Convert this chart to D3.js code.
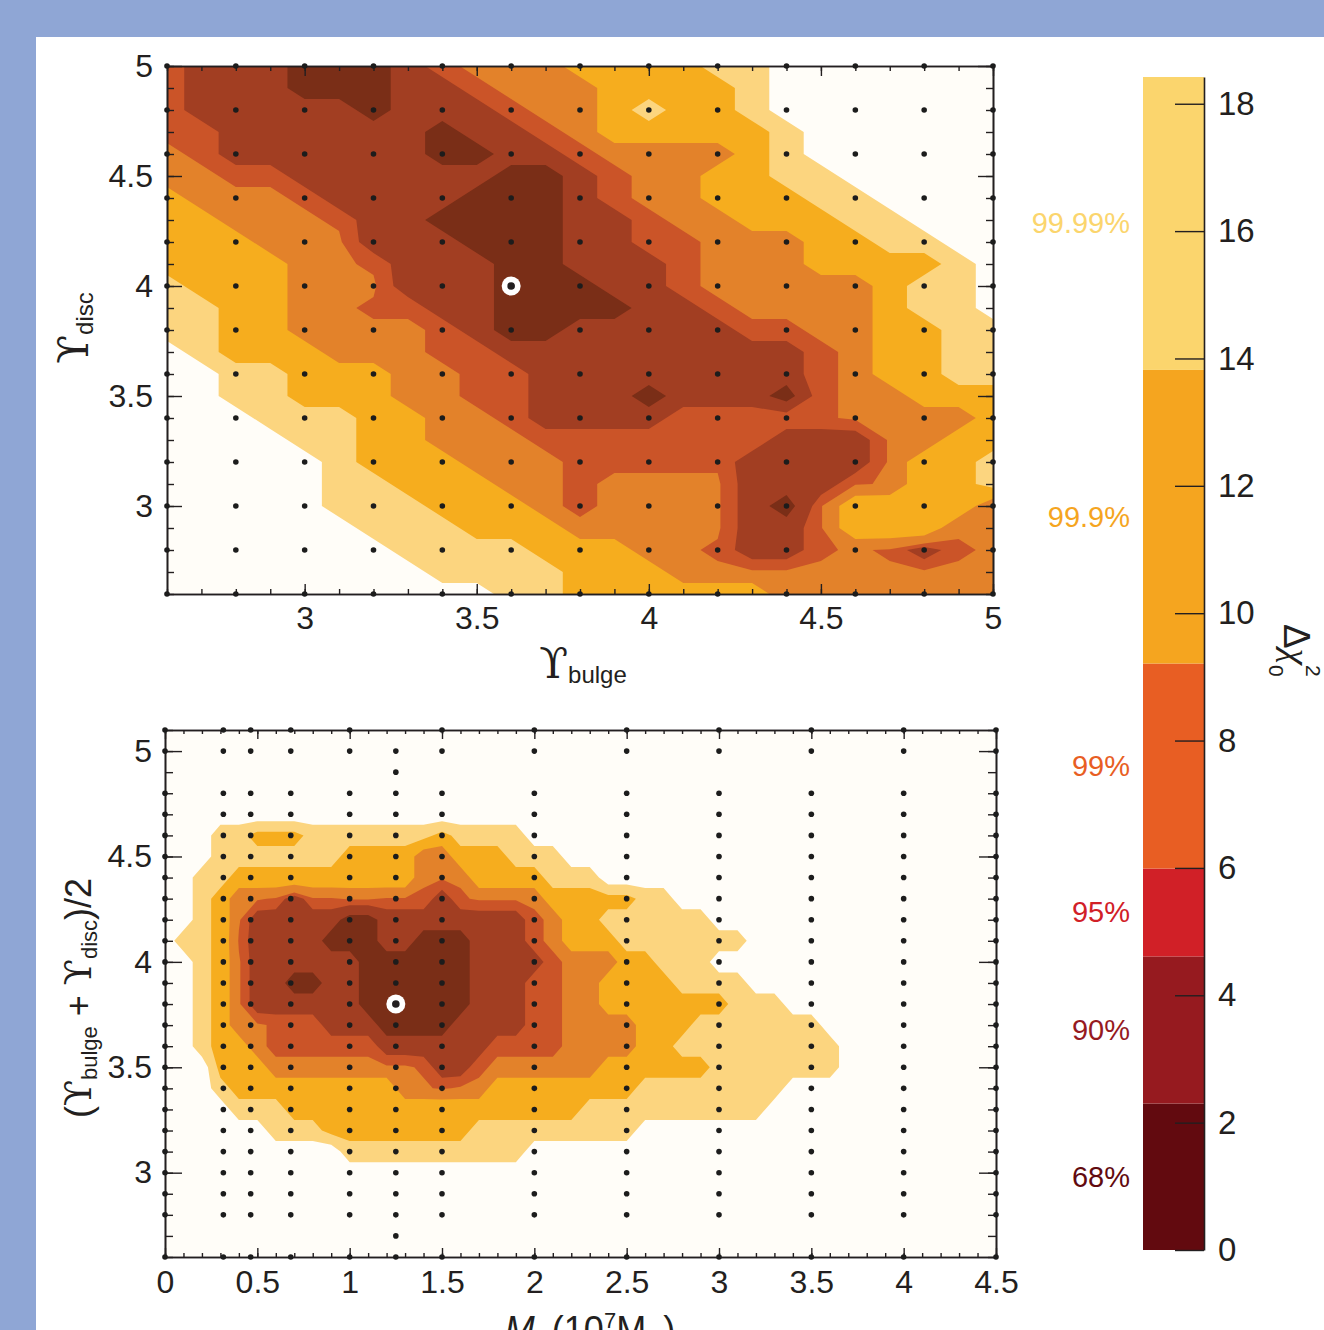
<!DOCTYPE html>
<html>
<head>
<meta charset="utf-8">
<script src="https://cdn.jsdelivr.net/npm/d3@7"></script>
<style>
  html, body { margin: 0; padding: 0; background: #8fa6d5; }
  svg { display: block; }
</style>
</head>
<body>
<svg id="chart" width="1324" height="1330"></svg>
<script>
// ---------------- DATA ----------------
// Δχ² confidence levels for 2 degrees of freedom
const thresholds = [2.30, 4.61, 5.99, 9.21, 13.82, 18.42];
const confLabels = ["68%", "90%", "95%", "99%", "99.9%", "99.99%"];
const barColors  = ["#620a0f", "#961a1f", "#d12027", "#e85e23", "#f5a51f", "#fbd56d"];
const fillColors = ["#7a2e17", "#a23e22", "#cb5428", "#e3822a", "#f6ad1e", "#fcd57f"];
const bgColor = "#fffdf8";
// representative Δχ² of each band digit used in the grids (0 = inside 68% ... 6 = outside 99.99%)
const bandValue = [1.15, 3.45, 5.77, 6.21, 12.21, 15.43, 21.41];
const colorbarTicks = [0, 2, 4, 6, 8, 10, 12, 14, 16, 18];

// ---- top panel: Υ_bulge (x) vs Υ_disc (y) ----
const topXTicks = [3, 3.5, 4, 4.5, 5];
const topYTicks = [3, 3.5, 4, 4.5, 5];
const topGridX = [2.6, 2.8, 3.0, 3.2, 3.4, 3.6, 3.8, 4.0, 4.2, 4.4, 4.6, 4.8, 5.0];
const topGridY = [2.6, 2.8, 3.0, 3.2, 3.4, 3.6, 3.8, 4.0, 4.2, 4.4, 4.6, 4.8, 5.0];
const topBest = [3.6, 4.0];
// band digit per 0.1 cell; first row y = 5.0, last row y = 2.6; columns x = 2.6 ... 5.0
const topRows = [
  "2111000123334444556666666",
  "2111000112333444456666666",
  "2111110111233454456666666",
  "2211111101123444445666666",
  "3211111100112333345666666",
  "3322111111001233445566666",
  "4333211110001233444556666",
  "4433321100001123344455666",
  "4443331110001122333445566",
  "4444332111001112333444456",
  "5444333111000112333334556",
  "5544332211000011233334556",
  "5544333321001111122334455",
  "6544433322111111111234455",
  "6655444332211111111234455",
  "6655444332211101110233444",
  "6665554433211112222233334",
  "6666554433322222221113344",
  "6666654443332222211113445",
  "6666655444332333311123445",
  "6666655544432333310244443",
  "6666665554443333311244433",
  "6666666555544433211232123",
  "6666666655554443333333333",
  "6666666666554444443333333"
];

// ---- bottom panel: M• (x) vs (Υ_bulge+Υ_disc)/2 (y) ----
const botXTicks = [0, 0.5, 1, 1.5, 2, 2.5, 3, 3.5, 4, 4.5];
const botYTicks = [3, 3.5, 4, 4.5, 5];
const botGridX = [0, 0.316, 0.464, 0.681, 1.0, 1.5, 2.0, 2.5, 3.0, 3.5, 4.0, 4.5];
const botGridY = [2.6, 2.8, 2.9, 3.0, 3.1, 3.2, 3.3, 3.4, 3.5, 3.6, 3.7, 3.8, 3.9, 4.0, 4.1, 4.2, 4.3, 4.4, 4.5, 4.6, 4.7, 4.8, 5.0, 5.1];
const botExtraX = 1.25;
const botExtraY = [2.6, 2.7, 2.8, 2.9, 3.0, 3.1, 3.2, 3.3, 3.4, 3.5, 3.6, 3.7, 3.8, 3.9, 4.0, 4.1, 4.2, 4.3, 4.4, 4.5, 4.6, 4.7, 4.8, 4.9, 5.0];
const botBest = [1.25, 3.8];
// first row y = 5.1, last row y = 2.6; columns x = 0.0 ... 4.5 (46); cells not listed are outside (6)
const botRowsHead = [
  "", "", "", "", "",
  "666554445555555455556",
  "6665555555444433444555",
  "665544444444443334444555",
  "6654332122332221233334444455",
  "665431111100111111112344555555",
  "65542111100011000111234445555555",
  "665431111110000001111233344555",
  "66543110011000000111223344445555",
  "6654311111100000011122334444444555",
  "665433222111000011112233334445555555",
  "6654432222221111112222333344555555555",
  "6664443333333321123333334444445555555",
  "6665444444444332334444444455555555",
  "666655544444444444444445555555555",
  "66666655544444444555555555",
  "66666666665555555555",
  "", "", "", "", ""
];
const botRows = botRowsHead.map(r => r.padEnd(46, "6"));

// ---------------- DRAWING ----------------
const W = 1324, H = 1330;
const ink = "#231f20";
const sans = "'Liberation Sans', Arial, Helvetica, sans-serif";
const greek = "'DejaVu Serif', 'DejaVu Sans', serif";
const svg = d3.select("#chart");
const defs = svg.append("defs");

svg.append("rect").attr("width", W).attr("height", H).attr("fill", "#8fa6d5");
svg.append("rect").attr("x", 36).attr("y", 37).attr("width", W - 36).attr("height", H - 37).attr("fill", "#ffffff");

const xTop = d3.scaleLinear().domain([2.6, 5.0]).range([167, 993]);
const yTop = d3.scaleLinear().domain([2.6, 5.0]).range([594, 66]);
const xBot = d3.scaleLinear().domain([0, 4.5]).range([165, 996]);
const yBot = d3.scaleLinear().domain([2.6, 5.1]).range([1257, 730]);

function drawContours(id, xs, ys, rows, gx0, gy0, step) {
  const [x0, x1] = xs.range(), [yb, yt] = ys.range();
  defs.append("clipPath").attr("id", id).append("rect")
    .attr("x", x0).attr("y", yt).attr("width", x1 - x0).attr("height", yb - yt);
  svg.append("rect").attr("x", x0).attr("y", yt).attr("width", x1 - x0).attr("height", yb - yt).attr("fill", bgColor);
  const nx = rows[0].length, ny = rows.length;
  const values = [];
  rows.forEach(r => { for (const ch of r) values.push(-bandValue[+ch]); });
  const levels = thresholds.map(t => -t).reverse();
  const polys = d3.contours().size([nx, ny]).thresholds(levels)(values);
  const proj = d3.geoTransform({
    point: function (gx, gy) {
      this.stream.point(xs(gx0 + (gx - 0.5) * step), ys(gy0 - (gy - 0.5) * step));
    }
  });
  svg.append("g").attr("clip-path", `url(#${id})`)
    .selectAll("path").data(polys).join("path")
    .attr("d", d3.geoPath(proj))
    .attr("fill", (d, i) => fillColors[fillColors.length - 1 - i]);
}

function addAxis(gen, transform, values, size, fmt, pad, fs) {
  const a = svg.append("g").attr("transform", transform)
    .call(gen.tickValues(values).tickSize(size).tickSizeOuter(0).tickPadding(pad || 0).tickFormat(fmt || (() => "")));
  a.select(".domain").attr("stroke", ink).attr("stroke-width", 1.6);
  a.selectAll(".tick line").attr("stroke", ink).attr("stroke-width", 1.4);
  a.selectAll("text").attr("fill", ink).attr("font-family", sans).attr("font-size", fs || 32);
  return a;
}

function drawFrame(xs, ys, xMinor, yMinor, xMajor, yMajor, tk, labelPadX, labelPadY) {
  const [x0, x1] = xs.range(), [yb, yt] = ys.range();
  const fmt = d3.format("~g");
  addAxis(d3.axisBottom(xs), `translate(0,${yb})`, xMinor, -tk.xMin);
  addAxis(d3.axisBottom(xs), `translate(0,${yb})`, xMajor, -tk.xMaj, fmt, labelPadX);
  addAxis(d3.axisTop(xs), `translate(0,${yt})`, xMinor, -tk.xMin);
  addAxis(d3.axisTop(xs), `translate(0,${yt})`, xMajor, -tk.xMaj);
  addAxis(d3.axisLeft(ys), `translate(${x0},0)`, yMinor, -tk.yMin);
  addAxis(d3.axisLeft(ys), `translate(${x0},0)`, yMajor, -tk.yMaj, fmt, labelPadY);
  addAxis(d3.axisRight(ys), `translate(${x1},0)`, yMinor, -tk.yMin);
  addAxis(d3.axisRight(ys), `translate(${x1},0)`, yMajor, -tk.yMaj);
}

function drawDots(xs, ys, gx, gy) {
  const pts = [];
  gx.forEach(x => gy.forEach(y => pts.push([x, y])));
  svg.append("g").selectAll("circle").data(pts).join("circle")
    .attr("cx", d => xs(d[0])).attr("cy", d => ys(d[1])).attr("r", 2.8).attr("fill", "#1c1c1c");
}

function drawBest(xs, ys, p) {
  svg.append("circle").attr("cx", xs(p[0])).attr("cy", ys(p[1])).attr("r", 9.5).attr("fill", "#ffffff");
  svg.append("circle").attr("cx", xs(p[0])).attr("cy", ys(p[1])).attr("r", 3.8).attr("fill", ink);
}

// ---- top panel ----
drawContours("clipTop", xTop, yTop, topRows, 2.6, 5.0, 0.1);
drawFrame(xTop, yTop, d3.range(26, 51).map(d => d / 10), d3.range(26, 51).map(d => d / 10),
  topXTicks, topYTicks, { xMin: 5, xMaj: 10, yMin: 7, yMaj: 15 }, 12, 14);
drawDots(xTop, yTop, topGridX, topGridY);
drawBest(xTop, yTop, topBest);

// ---- bottom panel ----
drawContours("clipBot", xBot, yBot, botRows, 0, 5.1, 0.1);
drawFrame(xBot, yBot, d3.range(0, 46).map(d => d / 10), d3.range(26, 52).map(d => d / 10),
  botXTicks, botYTicks, { xMin: 4, xMaj: 9, yMin: 8, yMaj: 17 }, 13, 13);
drawDots(xBot, yBot, botGridX, botGridY);
drawDots(xBot, yBot, [botExtraX], botExtraY);
drawBest(xBot, yBot, botBest);

// ---- colour bar ----
const cb = d3.scaleLinear().domain([0, 18.42]).range([1250, 77]);
const lows = [0].concat(thresholds.slice(0, -1));
svg.append("g").selectAll("rect").data(thresholds).join("rect")
  .attr("x", 1143).attr("width", 61)
  .attr("y", d => cb(d)).attr("height", (d, i) => cb(lows[i]) - cb(d))
  .attr("fill", (d, i) => barColors[i]);
addAxis(d3.axisRight(cb), "translate(1204,0)", colorbarTicks, -29, d3.format("d"), 14, 33);

svg.append("g").selectAll("text").data(confLabels).join("text")
  .attr("x", 1130).attr("y", (d, i) => cb((lows[i] + thresholds[i]) / 2))
  .attr("text-anchor", "end").attr("dominant-baseline", "central")
  .attr("font-family", sans).attr("font-size", 29)
  .attr("fill", (d, i) => barColors[i]).text(d => d);

// ---- axis titles ----
function upsilonLabel(parent, sub, size, subSize, subDy) {
  parent.append("tspan").attr("font-family", greek).attr("font-size", size).text("ϒ");
  parent.append("tspan").attr("font-family", sans).attr("font-size", subSize).attr("dy", subDy).text(sub);
}

const tx = svg.append("text").attr("x", 583).attr("y", 678).attr("text-anchor", "middle").attr("fill", ink);
upsilonLabel(tx, "bulge", 42, 24, 5);

const ty = svg.append("text").attr("transform", "translate(88,328) rotate(-90)").attr("text-anchor", "middle").attr("fill", ink);
upsilonLabel(ty, "disc", 42, 24, 5);

const by = svg.append("text").attr("transform", "translate(91,998) rotate(-90)")
  .attr("text-anchor", "middle").attr("fill", ink).attr("font-family", sans).attr("font-size", 36);
by.append("tspan").text("(");
upsilonLabel(by, "bulge", 38, 22, 6);
by.append("tspan").attr("dy", -6).text(" + ");
upsilonLabel(by, "disc", 38, 22, 6);
by.append("tspan").attr("dy", -6).text(")/2");

const bx = svg.append("text").attr("x", 590).attr("y", 1342).attr("text-anchor", "middle")
  .attr("fill", ink).attr("font-family", sans).attr("font-size", 36);
bx.append("tspan").attr("font-style", "italic").text("M");
bx.append("tspan").attr("font-size", 20).attr("dy", 6).text("•");
bx.append("tspan").attr("dy", -6).text(" (10");
bx.append("tspan").attr("font-size", 22).attr("dy", -14).text("7");
bx.append("tspan").attr("dy", 14).text("M");
bx.append("tspan").attr("font-size", 20).attr("dy", 6).text("⊙");
bx.append("tspan").attr("dy", -6).text(")");

const ct = svg.append("text").attr("transform", "translate(1284,624) rotate(90)")
  .attr("fill", ink).attr("font-family", sans).attr("font-size", 37);
ct.append("tspan").text("Δ");
ct.append("tspan").attr("font-family", "'Liberation Serif', 'DejaVu Serif', serif").attr("font-style", "italic").text("χ");
ct.append("tspan").attr("font-size", 21).attr("dy", 15).text("0");
ct.append("tspan").attr("font-size", 21).attr("dx", -11.7).attr("dy", -37).text("2");
</script>
</body>
</html>
